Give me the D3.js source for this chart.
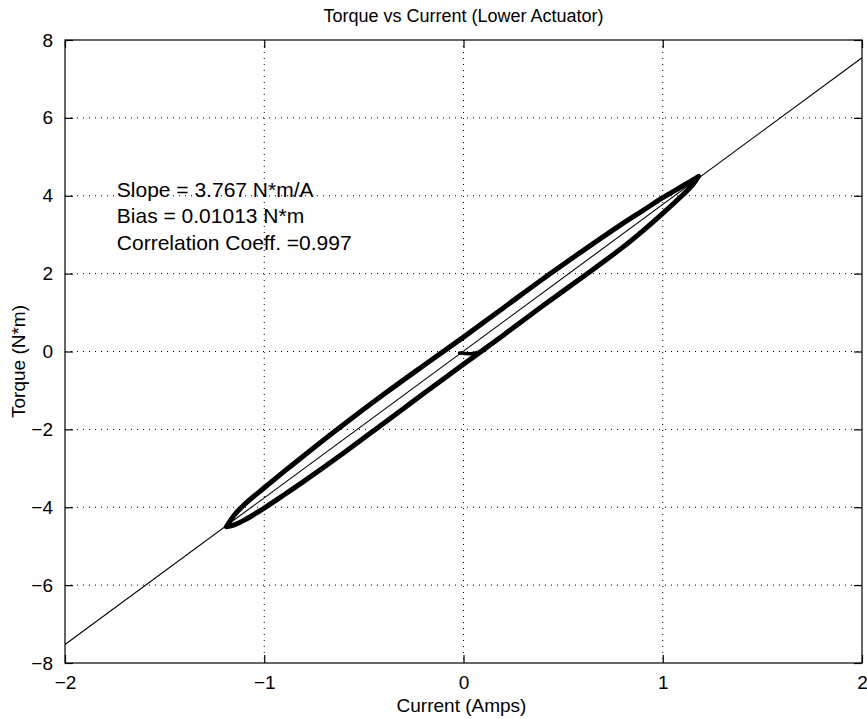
<!DOCTYPE html>
<html>
<head>
<meta charset="utf-8">
<script src="https://cdn.jsdelivr.net/npm/d3@7"></script>
<style>
  html, body { margin: 0; padding: 0; background: #fff; }
  text { font-family: "Liberation Sans", Arial, sans-serif; fill: #000; }
</style>
</head>
<body>
<div id="chart"></div>
<script>
// fit results shown on the chart
var slope = 3.767;
var bias = 0.01013;
var annotation = ['Slope = 3.767 N*m/A', 'Bias = 0.01013 N*m', 'Correlation Coeff. =0.997'];

var xTicks = [-2, -1, 0, 1, 2];
var yTicks = [-8, -6, -4, -2, 0, 2, 4, 6, 8];

// measured loop, upper branch (rising current)
var upperCurrent = [-1.19, -1.15, -1.10, -1.00, -0.90, -0.80, -0.60, -0.40, -0.20, 0.00, 0.20, 0.40, 0.60, 0.80, 0.90, 1.00, 1.10, 1.15, 1.18];
var upperTorque  = [-4.50, -4.20, -3.93, -3.50, -3.08, -2.67, -1.87, -1.10, -0.36, 0.37, 1.12, 1.87, 2.59, 3.29, 3.62, 3.95, 4.25, 4.40, 4.50];
// lower branch (falling current)
var lowerCurrent = [1.18, 1.15, 1.10, 1.00, 0.90, 0.80, 0.60, 0.40, 0.20, 0.00, -0.20, -0.40, -0.60, -0.80, -0.90, -1.00, -1.10, -1.15, -1.19];
var lowerTorque  = [4.50, 4.28, 4.02, 3.55, 3.10, 2.68, 1.92, 1.18, 0.42, -0.33, -1.08, -1.84, -2.60, -3.33, -3.68, -4.02, -4.33, -4.45, -4.50];
// start-up transient near the origin
var startCurrent = [-0.02, 0.05, 0.10];
var startTorque  = [-0.04, -0.05, 0.02];

var W = 867, H = 719;
var margin = {top: 40, right: 5, bottom: 56, left: 65};
var width = W - margin.left - margin.right,
    height = H - margin.top - margin.bottom;

var svg = d3.select('#chart').append('svg')
    .attr('width', W)
    .attr('height', H);

var g = svg.append('g')
    .attr('transform', 'translate(' + margin.left + ',' + margin.top + ')');

var xScale = d3.scaleLinear().domain([-2, 2]).range([0, width]);
var yScale = d3.scaleLinear().domain([-8, 8]).range([height, 0]);

// dotted grid
g.selectAll('.vgrid')
    .data(xTicks.slice(1, -1)).enter().append('line')
    .attr('x1', function(d) { return xScale(d); })
    .attr('x2', function(d) { return xScale(d); })
    .attr('y1', 0).attr('y2', height)
    .attr('stroke', '#000').attr('stroke-width', 1)
    .attr('stroke-dasharray', '1,5');

g.selectAll('.hgrid')
    .data(yTicks.slice(1, -1)).enter().append('line')
    .attr('y1', function(d) { return yScale(d); })
    .attr('y2', function(d) { return yScale(d); })
    .attr('x1', 0).attr('x2', width)
    .attr('stroke', '#000').attr('stroke-width', 1)
    .attr('stroke-dasharray', '1,5');

g.append('clipPath').attr('id', 'clip')
  .append('rect').attr('width', width).attr('height', height);

var plot = g.append('g').attr('clip-path', 'url(#clip)');

// fitted line
plot.append('line')
    .attr('x1', xScale(-2)).attr('y1', yScale(slope * -2 + bias))
    .attr('x2', xScale(2)).attr('y2', yScale(slope * 2 + bias))
    .attr('stroke', '#000').attr('stroke-width', 1.1);

var line = d3.line()
    .x(function(d) { return xScale(d[0]); })
    .y(function(d) { return yScale(d[1]); })
    .curve(d3.curveCatmullRom);

var loop = upperCurrent.map(function(c, i) { return [c, upperTorque[i]]; })
    .concat(lowerCurrent.map(function(c, i) { return [c, lowerTorque[i]]; }));

plot.append('path')
    .datum(loop)
    .attr('d', line)
    .attr('fill', 'none')
    .attr('stroke', '#000')
    .attr('stroke-width', 5)
    .attr('stroke-linejoin', 'round')
    .attr('stroke-linecap', 'round');

plot.append('path')
    .datum(startCurrent.map(function(c, i) { return [c, startTorque[i]]; }))
    .attr('d', line)
    .attr('fill', 'none')
    .attr('stroke', '#000')
    .attr('stroke-width', 3.5)
    .attr('stroke-linecap', 'round');

// box
g.append('rect')
    .attr('width', width).attr('height', height)
    .attr('fill', 'none').attr('stroke', '#000').attr('stroke-width', 1.2);

// inward ticks on all sides
var tickLen = 8;
var fmt = function(d) { return d < 0 ? '\u2212' + (-d) : d; };
var axisBottom = d3.axisBottom(xScale).tickValues(xTicks).tickSizeInner(-tickLen).tickSizeOuter(0)
    .tickPadding(tickLen + 5).tickFormat(fmt);
var axisLeft = d3.axisLeft(yScale).tickValues(yTicks).tickSizeInner(-tickLen).tickSizeOuter(0)
    .tickPadding(tickLen + 4).tickFormat(fmt);

var xa = g.append('g').attr('transform', 'translate(0,' + height + ')').call(axisBottom);
var ya = g.append('g').call(axisLeft);
var xt = g.append('g').call(d3.axisTop(xScale).tickValues(xTicks).tickSizeInner(-tickLen).tickSizeOuter(0).tickFormat(''));
var yr = g.append('g').attr('transform', 'translate(' + width + ',0)')
    .call(d3.axisRight(yScale).tickValues(yTicks).tickSizeInner(-tickLen).tickSizeOuter(0).tickFormat(''));

[xa, ya, xt, yr].forEach(function(a) {
    a.select('.domain').remove();
    a.selectAll('line').attr('stroke', '#000').attr('stroke-width', 1.2);
    a.selectAll('text').style('font-family', '"Liberation Sans", Arial, sans-serif')
        .style('font-size', '19px').attr('fill', '#000');
});

// labels
svg.append('text')
    .attr('x', margin.left + width / 2).attr('y', 22)
    .attr('text-anchor', 'middle').style('font-size', '18px')
    .text('Torque vs Current (Lower Actuator)');

svg.append('text')
    .attr('x', margin.left + width / 2 - 2).attr('y', 712)
    .attr('text-anchor', 'middle').style('font-size', '19px')
    .text('Current (Amps)');

svg.append('text')
    .attr('transform', 'translate(25,' + (margin.top + height / 2 + 10) + ') rotate(-90)')
    .attr('text-anchor', 'middle').style('font-size', '19px')
    .text('Torque (N*m)');

g.selectAll('.note')
    .data(annotation).enter().append('text')
    .attr('x', xScale(-1.74))
    .attr('y', function(d, i) { return yScale(3.98) + i * 26.5; })
    .style('font-size', '21px')
    .text(function(d) { return d; });
</script>
</body>
</html>
